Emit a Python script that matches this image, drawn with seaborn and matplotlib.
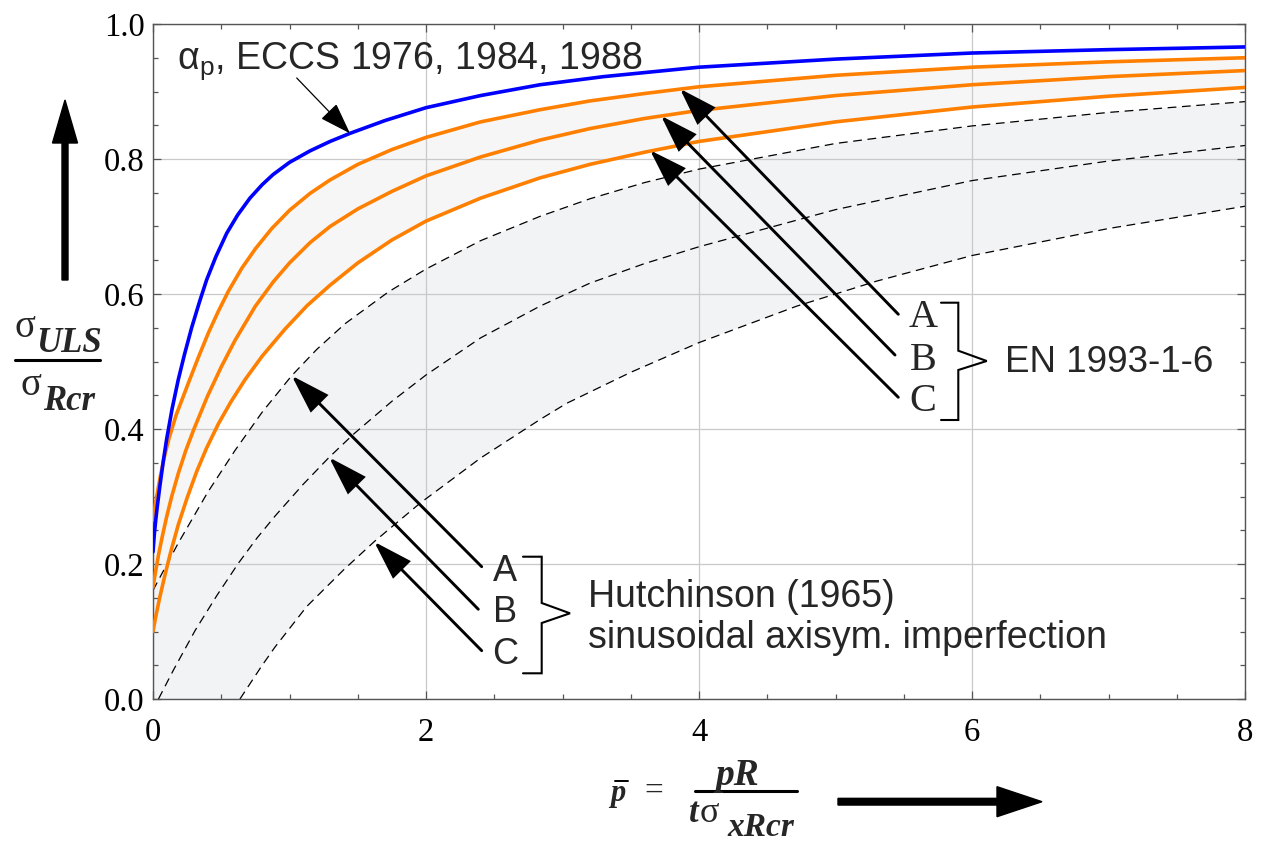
import numpy as np
import pandas as pd
import matplotlib
matplotlib.use("Agg")
import matplotlib.pyplot as plt
import matplotlib.patches as mpatches
from matplotlib.ticker import MultipleLocator, AutoMinorLocator
import seaborn as sns

# ---- curve data: relative pressure p_bar vs sigma_ULS / sigma_Rcr ----
eccs_x = [0.0, 0.01, 0.02, 0.03, 0.05, 0.075, 0.10, 0.14, 0.185, 0.23, 0.283, 0.34,
          0.393, 0.46, 0.54, 0.62, 0.71, 0.80, 0.88, 1.0, 1.15, 1.297, 1.443, 1.7,
          2.0, 2.4, 2.835, 3.3, 4.0, 5.0, 6.0, 7.0, 8.0]
eccs_y = [0.218, 0.245, 0.265, 0.283, 0.315, 0.352, 0.385, 0.43, 0.473, 0.51, 0.55, 0.588,
          0.621, 0.655, 0.69, 0.717, 0.742, 0.762, 0.777, 0.795, 0.812, 0.826, 0.838, 0.857,
          0.876, 0.894, 0.910, 0.922, 0.936, 0.948, 0.957, 0.962, 0.966]

en_a_x = [0.0, 0.02, 0.05, 0.08, 0.117, 0.17, 0.259, 0.33, 0.405, 0.48, 0.552, 0.65,
          0.75, 0.87, 1.0, 1.15, 1.297, 1.5, 1.75, 2.0, 2.4, 2.835, 3.2, 3.6, 4.0,
          5.0, 6.0, 7.0, 8.0]
en_a_y = [0.265, 0.292, 0.326, 0.356, 0.386, 0.421, 0.468, 0.505, 0.542, 0.575, 0.604, 0.638,
          0.667, 0.697, 0.724, 0.749, 0.769, 0.792, 0.814, 0.832, 0.855, 0.873, 0.886, 0.897,
          0.907, 0.924, 0.936, 0.944, 0.950]

en_b_x = [0.0, 0.02, 0.04, 0.064, 0.1, 0.137, 0.185, 0.24, 0.3, 0.4, 0.5, 0.6, 0.75,
          0.881, 1.0, 1.15, 1.297, 1.5, 1.75, 2.0, 2.4, 2.835, 3.2, 3.6, 4.0, 5.0, 6.0,
          7.0, 8.0]
en_b_y = [0.166, 0.19, 0.213, 0.237, 0.27, 0.30, 0.334, 0.368, 0.400, 0.449, 0.492, 0.531,
          0.582, 0.618, 0.646, 0.676, 0.700, 0.726, 0.752, 0.775, 0.803, 0.828, 0.845, 0.860,
          0.872, 0.894, 0.910, 0.922, 0.931]

en_c_x = [0.0, 0.02, 0.05, 0.088, 0.13, 0.185, 0.25, 0.32, 0.393, 0.48, 0.57, 0.674,
          0.8, 0.967, 1.13, 1.297, 1.5, 1.75, 2.0, 2.4, 2.835, 3.2, 3.6, 4.0, 5.0, 6.0,
          7.0, 8.0]
en_c_y = [0.10, 0.122, 0.151, 0.184, 0.218, 0.258, 0.298, 0.337, 0.372, 0.408, 0.440, 0.473,
          0.508, 0.548, 0.583, 0.613, 0.646, 0.680, 0.708, 0.742, 0.772, 0.792, 0.810, 0.826,
          0.855, 0.877, 0.893, 0.906]

hut_a_x = [0.0, 0.185, 0.4, 0.6, 0.8, 1.016, 1.2, 1.407, 1.724, 2.0, 2.4, 2.835, 3.2,
           3.6, 4.0, 5.0, 6.0, 7.0, 8.0]
hut_a_y = [0.161, 0.231, 0.306, 0.368, 0.425, 0.479, 0.518, 0.556, 0.603, 0.637, 0.679,
           0.715, 0.741, 0.765, 0.785, 0.823, 0.849, 0.869, 0.885]

hut_b_x = [0.04, 0.15, 0.31, 0.47, 0.625, 0.76, 0.894, 1.1, 1.29, 1.467, 1.75, 2.0,
           2.4, 2.835, 3.2, 3.6, 4.0, 5.0, 6.0, 7.0, 8.0]
hut_b_y = [0.0, 0.043, 0.102, 0.154, 0.201, 0.238, 0.271, 0.318, 0.358, 0.392, 0.441, 0.480,
           0.535, 0.582, 0.616, 0.645, 0.670, 0.725, 0.768, 0.797, 0.820]

hut_c_x = [0.637, 0.8, 0.894, 1.126, 1.4, 1.62, 1.956, 2.4, 2.835, 3.03, 3.5, 4.0,
           4.716, 5.3, 6.0, 7.0, 8.0]
hut_c_y = [0.0, 0.05, 0.077, 0.137, 0.192, 0.233, 0.290, 0.357, 0.414, 0.438, 0.484, 0.528,
           0.582, 0.619, 0.657, 0.697, 0.730]

x_ticks = [0, 2, 4, 6, 8]
y_ticks = [0.0, 0.2, 0.4, 0.6, 0.8, 1.0]

BLUE = "#0000ff"
ORANGE = "#ff8000"
SANS = "Liberation Sans"
SERIF = "Liberation Serif"

sns.set_theme(style="ticks")
plt.rcParams["font.family"] = [SANS, "DejaVu Sans"]
plt.rcParams["mathtext.fontset"] = "custom"
plt.rcParams["mathtext.rm"] = SANS
plt.rcParams["mathtext.it"] = SANS + ":italic"

W, H = 1264, 843
fig = plt.figure(figsize=(W / 100, H / 100), dpi=100)
fig.patch.set_facecolor("white")
ax = fig.add_axes([153 / W, 144 / H, 1092 / W, 675 / H])
ax.set_facecolor("white")

# shaded bands
band_en = list(zip(en_a_x, en_a_y)) + list(zip(en_c_x[::-1], en_c_y[::-1]))
ax.add_patch(mpatches.Polygon(band_en, closed=True, facecolor="#f6f6f7",
                              edgecolor="none", zorder=0.5))
band_hut = (list(zip(hut_a_x, hut_a_y)) + list(zip(hut_c_x[::-1], hut_c_y[::-1]))
            + [(0.0, 0.0)])
ax.add_patch(mpatches.Polygon(band_hut, closed=True, facecolor="#f2f3f5",
                              edgecolor="none", zorder=0.5))

# Hutchinson curves (dashed)
for xs, ys in [(hut_a_x, hut_a_y), (hut_b_x, hut_b_y), (hut_c_x, hut_c_y)]:
    sns.lineplot(x=xs, y=ys, ax=ax, color="black", lw=0.9, sort=False,
                 estimator=None, zorder=2)
    ax.lines[-1].set_dashes((7, 4.5))

# EN 1993-1-6 curves
for xs, ys in [(en_a_x, en_a_y), (en_b_x, en_b_y), (en_c_x, en_c_y)]:
    sns.lineplot(x=xs, y=ys, ax=ax, color=ORANGE, lw=2.6, sort=False,
                 estimator=None, zorder=3)
    ax.lines[-1].set_solid_joinstyle("round")

# ECCS alpha_p curve
sns.lineplot(x=eccs_x, y=eccs_y, ax=ax, color=BLUE, lw=2.6, sort=False,
             estimator=None, zorder=4)
ax.lines[-1].set_solid_joinstyle("round")

# axes styling
ax.set_xlim(0, 8)
ax.set_ylim(0, 1)
ax.set_xticks(x_ticks)
ax.set_yticks(y_ticks)
ax.xaxis.set_minor_locator(AutoMinorLocator(4))
ax.yaxis.set_minor_locator(AutoMinorLocator(4))
ax.set_xticklabels([str(v) for v in x_ticks])
ax.set_yticklabels([f"{v:.1f}" for v in y_ticks])
ax.grid(True, which="major", color="#c9c9c9", lw=0.9)
ax.set_axisbelow(True)
for s in ax.spines.values():
    s.set_color("#555555")
    s.set_linewidth(1.0)
    s.set_visible(True)
ax.tick_params(which="both", direction="in", top=True, right=True,
               color="#555555", width=0.9)
ax.tick_params(which="major", length=6)
ax.tick_params(which="minor", length=3.5)
ax.tick_params(axis="y", which="major", pad=6)
ax.tick_params(axis="x", which="major", pad=13)
for lab in ax.get_xticklabels() + ax.get_yticklabels():
    lab.set_fontfamily(SERIF)
    lab.set_fontsize(23.5)
    lab.set_color("black")
ax.set_xlabel("")
ax.set_ylabel("")


# ---- annotations ----
def arrow(tip, tail, lw, hl, hw, ms=20):
    ax.annotate("", xy=tip, xytext=tail, annotation_clip=False,
                arrowprops=dict(arrowstyle=f"-|>,head_length={hl},head_width={hw}",
                                lw=lw, color="black", shrinkA=0, shrinkB=0,
                                mutation_scale=ms, joinstyle="miter"),
                zorder=6)


ax.text(0.173, 0.9343, r"$\mathrm{\alpha}_\mathrm{p}$, ECCS 1976, 1984, 1988",
        fontsize=27, family=SANS, va="baseline", ha="left", zorder=6)
arrow((1.443, 0.838), (1.053, 0.920), lw=0.9, hl=1.0, hw=0.34)

# EN 1993-1-6 pointers
for tip, tail in [((3.861, 0.904), (5.46, 0.570)),
                  ((3.722, 0.864), (5.436, 0.5096)),
                  ((3.641, 0.813), (5.46, 0.447))]:
    arrow(tip, tail, lw=2.1, hl=1.15, hw=0.38)
for lab, yy in zip(["A", "B", "C"], [0.565, 0.502, 0.441]):
    ax.text(5.64, yy, lab, family=SERIF, fontsize=29, ha="center", va="center", zorder=6)

# Hutchinson pointers
for tip, tail in [((1.016, 0.479), (2.408, 0.196)),
                  ((1.29, 0.358), (2.383, 0.133)),
                  ((1.62, 0.233), (2.408, 0.0716))]:
    arrow(tip, tail, lw=2.1, hl=1.2, hw=0.38)
for lab, yy in zip(["A", "B", "C"], [0.189, 0.128, 0.066]):
    ax.text(2.582, yy, lab, family=SANS, fontsize=26, ha="center", va="center", zorder=6)


def px2d(px, py):
    return (px - 153) / 136.5, (699 - py) / 675


def brace(x_left, x_v, x_tip, py_top, py_up, py_tip, py_lo, py_bot):
    pts = [(x_left, py_top), (x_v, py_top), (x_v, py_up), (x_tip, py_tip),
           (x_v, py_lo), (x_v, py_bot), (x_left, py_bot)]
    xs, ys = zip(*[px2d(a, b) for a, b in pts])
    ax.plot(xs, ys, color="black", lw=1.5, clip_on=False, zorder=6,
            solid_joinstyle="miter")


brace(941, 958.3, 986.7, 302.7, 350.7, 361, 370, 420)
brace(523, 541.7, 570, 556.7, 603, 613.3, 623, 673.3)

ax.text(6.242, 0.4849, "EN 1993-1-6", family=SANS, fontsize=26.5, va="baseline", zorder=6)
ax.text(3.187, 0.1367, "Hutchinson (1965)", family=SANS, fontsize=27, va="baseline",
        zorder=6)
ax.text(3.187, 0.0751, "sinusoidal axisym. imperfection", family=SANS, fontsize=27,
        va="baseline", zorder=6)


# ---- axis titles built from pieces (figure pixel positions) ----
def ftext(px, py, s, **kw):
    fig.text(px / W, 1 - py / H, s, va="baseline", ha="left", **kw)


def fline(px0, px1, py, lw):
    fig.add_artist(plt.Line2D([px0 / W, px1 / W], [1 - py / H, 1 - py / H],
                              transform=fig.transFigure, color="black", lw=lw))


# y: sigma_ULS / sigma_Rcr
ftext(14, 337, "σ", family=SERIF, fontsize=28)
ftext(36, 352, "ULS", family=SERIF, fontsize=25, fontweight="bold", fontstyle="italic")
fline(15, 100, 360, 2.2)
ftext(21, 395, "σ", family=SERIF, fontsize=28)
ftext(43, 410, "Rcr", family=SERIF, fontsize=25, fontweight="bold", fontstyle="italic")

# x: p_bar = pR / (t sigma_xRcr)
ftext(610, 801, "p", family=SERIF, fontsize=22, fontweight="bold", fontstyle="italic")
fline(615, 628, 781, 1.4)
ftext(644, 800, "=", family=SERIF, fontsize=24)
ftext(716, 785, "pR", family=SERIF, fontsize=27, fontweight="bold", fontstyle="italic")
fline(695, 797, 791, 2.2)
ftext(689, 822, "t", family=SERIF, fontsize=25, fontweight="bold", fontstyle="italic")
ftext(700, 822, "σ", family=SERIF, fontsize=26)
ftext(727, 836, "xRcr", family=SERIF, fontsize=24, fontweight="bold", fontstyle="italic")

# direction arrows
fig.add_artist(mpatches.FancyArrow(65 / 100, (H - 280) / 100, 0, 1.80, width=0.06,
                                   head_width=0.25, head_length=0.43,
                                   length_includes_head=True, color="black",
                                   transform=fig.dpi_scale_trans))
fig.add_artist(mpatches.FancyArrow(838 / 100, (H - 801.7) / 100, 2.04, 0, width=0.067,
                                   head_width=0.30, head_length=0.45,
                                   length_includes_head=True, color="black",
                                   transform=fig.dpi_scale_trans))

fig.savefig("out.png", dpi=100, facecolor="white")
